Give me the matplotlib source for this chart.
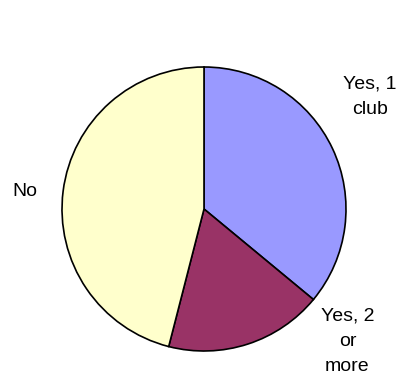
import matplotlib.pyplot as plt

plt.rcParams['font.family'] = ['Liberation Sans', 'DejaVu Sans']

categories = ["Yes, 1\nclub", "Yes, 2\nor\nmore", "No"]
shares = [36, 18, 46]
colors = ["#9999FF", "#993366", "#FFFFCC"]

# label positions in axes data units (pie radius = 1)
label_pos = [(1.17, 0.79), (1.01, -0.93), (-1.26, 0.12)]

fig = plt.figure(figsize=(4.09, 3.85), dpi=100)
ax = fig.add_axes([0, 0, 1, 1])

ax.pie(
    shares,
    colors=colors,
    startangle=90,
    counterclock=False,
    radius=1.0,
    center=(0, 0),
    wedgeprops={"edgecolor": "black", "linewidth": 1.2},
)

for label, (x, y) in zip(categories, label_pos):
    ax.text(x, y, label, ha="center", va="center", fontsize=14,
            linespacing=1.65)

px = 142.0
ax.set_xlim(-204 / px, 205 / px)
ax.set_ylim(-(385 - 209) / px, 209 / px)
ax.set_aspect("equal")
ax.axis("off")

fig.savefig("out.png", dpi=100)
plt.close(fig)
